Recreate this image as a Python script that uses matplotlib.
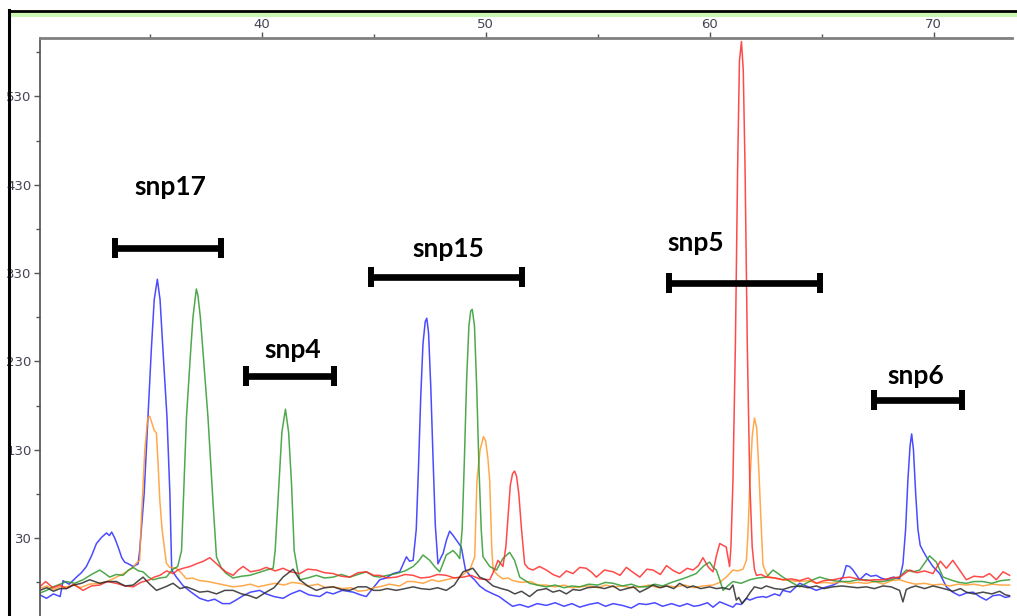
import matplotlib
matplotlib.use("Agg")
import matplotlib.pyplot as plt
from matplotlib.lines import Line2D
from matplotlib.patches import Rectangle

# trace values (x = size, y = signal)
blue_x = [30.09, 30.39, 30.7, 31.0, 31.13, 31.4, 31.73, 31.95, 32.17, 32.4, 32.62, 32.85, 33.07, 33.2, 33.3, 33.44, 33.59, 33.75, 33.88, 34.05, 34.26, 34.48,
          34.55, 34.75, 34.92, 35.07, 35.2, 35.34, 35.46, 35.59, 35.77, 35.9, 35.98, 36.19, 36.5, 36.85, 37.23, 37.6, 37.9, 38.25, 38.57, 38.85, 39.17,
          39.5, 39.91, 40.2, 40.55, 40.95, 41.3, 41.7, 42.1, 42.59, 42.9, 43.19, 43.6, 44.08, 44.4, 44.67, 44.95, 45.27, 45.55, 45.86, 46.16, 46.46,
          46.6, 46.76, 46.9, 47.0, 47.1, 47.2, 47.3, 47.37, 47.45, 47.55, 47.65, 47.75, 47.87, 48.0, 48.1, 48.25, 48.39, 48.55, 48.69, 48.91, 49.1,
          49.29, 49.5, 49.73, 50.0, 50.33, 50.6, 50.92, 51.2, 51.52, 51.9, 52.3, 52.71, 53.1, 53.5, 53.85, 54.2, 54.6, 55.0, 55.35, 55.69, 56.1,
          56.5, 56.85, 57.17, 57.55, 57.9, 58.3, 58.66, 59.0, 59.3, 59.55, 59.9, 60.15, 60.45, 60.75, 61.04, 61.19, 61.4, 61.64, 61.79, 62.1, 62.38,
          62.53, 62.9, 63.13, 63.27, 63.6, 64.02, 64.4, 64.76, 65.1, 65.51, 65.75, 65.95, 66.1, 66.25, 66.4, 66.7, 66.99, 67.2, 67.44, 67.65, 67.89,
          68.2, 68.48, 68.63, 68.75, 68.85, 68.95, 69.02, 69.1, 69.2, 69.3, 69.4, 69.52, 69.7, 69.97, 70.27, 70.57, 70.85, 71.16, 71.45, 71.76,
          72.05, 72.35, 72.65, 72.95, 73.2, 73.39]
blue_y = [-34, -38, -33, -36, -18, -22, -14, -9, -2, 10, 24, 31, 36, 33, 37, 30, 20, 8, 3, 1, -2, 1,
          16, 80, 167, 243, 300, 323, 300, 243, 167, 80, -6, -14, -24, -31, -38, -41, -39, -44, -44, -40, -35,
          -31, -29, -33, -36, -38, -33, -29, -34, -36, -31, -33, -29, -31, -34, -36, -27, -17, -15, -10, -8, 9,
          4, 5, 40, 110, 190, 250, 275, 279, 262, 200, 120, 45, 1, 8, 13, 28, 38, 33, 28, 20, -6, -12,
          -17, -24, -29, -33, -36, -42, -47, -45, -48, -44, -46, -43, -47, -44, -48, -45, -43, -47, -44, -46,
          -49, -44, -45, -43, -47, -44, -47, -44, -47, -46, -43, -48, -42, -45, -48, -44, -45, -38, -40, -37, -36,
          -37, -33, -35, -29, -31, -21, -25, -29, -26, -23, -20, -14, -1, -2, -6, -17, -10, -13, -12, -15, -17,
          -14, -16, 1, 40, 95, 135, 148, 130, 80, 40, 22, 16, 8, -2, -10, -25, -31, -35, -32, -31,
          -36, -40, -35, -34, -37, -36]

orange_x = [30.09, 30.4, 30.7, 31.0, 31.28, 31.6, 31.9, 32.3, 32.77, 33.1, 33.51, 33.9, 34.26, 34.41, 34.55, 34.63, 34.78, 34.91, 35.0, 35.1, 35.2,
            35.3, 35.38, 35.45, 35.55, 35.67, 35.74, 35.89, 36.19, 36.4, 36.64, 36.9, 37.23, 37.6, 37.98, 38.35, 38.72, 39.1, 39.5, 39.85, 40.2, 40.6,
            41.0, 41.35, 41.7, 42.1, 42.5, 42.85, 43.19, 43.6, 44.0, 44.3, 44.67, 45.0, 45.27, 45.7, 46.16, 46.5, 46.76, 47.2, 47.6, 47.9, 48.24,
            48.55, 48.84, 49.05, 49.29, 49.51, 49.61, 49.75, 49.9, 50.0, 50.1, 50.18, 50.27, 50.33, 50.55, 50.77, 51.0, 51.22, 51.6, 52.0, 52.35,
            52.71, 53.1, 53.5, 53.85, 54.2, 54.6, 55.0, 55.35, 55.7, 56.1, 56.5, 56.9, 57.3, 57.7, 58.1, 58.5, 58.9, 59.3, 59.7, 60.15, 60.45,
            60.74, 61.04, 61.25, 61.49, 61.64, 61.7, 61.8, 61.9, 62.0, 62.1, 62.2, 62.3, 62.38, 62.53, 62.68, 62.95, 63.27, 63.65, 64.02, 64.4,
            64.8, 65.15, 65.51, 65.9, 66.25, 66.6, 66.99, 67.4, 67.75, 68.1, 68.48, 68.85, 69.2, 69.6, 69.97, 70.35, 70.7, 71.1, 71.46, 71.8,
            72.2, 72.6, 73.0, 73.39]
orange_y = [-27, -24, -28, -25, -25, -23, -26, -22, -21, -19, -14, -9, -3, 2, 5, 54, 130, 166, 168, 160, 152,
            149, 110, 73, 40, 16, 2, -3, -4, -9, -16, -15, -18, -19, -21, -23, -25, -24, -22, -25, -23, -21,
            -23, -20, -21, -24, -22, -26, -25, -27, -26, -30, -29, -26, -25, -22, -24, -19, -19, -21, -17, -19, -17,
            -15, -14, -10, -6, 9, 95, 130, 145, 140, 120, 95, 20, -6, -12, -16, -15, -18, -20, -19, -23,
            -23, -25, -23, -26, -25, -24, -26, -23, -25, -24, -26, -25, -23, -26, -24, -25, -23, -26, -24, -23, -20,
            -14, -6, -7, -5, 5, 30, 95, 145, 166, 155, 105, 45, 0, -10, -14, -15, -17, -18, -19, -18,
            -21, -20, -21, -19, -21, -20, -21, -19, -22, -18, -17, -20, -22, -21, -23, -22, -24, -22, -23, -22,
            -24, -22, -23, -23]

green_x = [30.09, 30.4, 30.68, 31.0, 31.28, 31.65, 32.02, 32.4, 32.77, 33.0, 33.21, 33.5, 33.81, 34.05, 34.26, 34.5, 34.7, 34.95, 35.15, 35.45, 35.74,
           35.9, 36.04, 36.25, 36.42, 36.64, 36.83, 36.93, 37.08, 37.15, 37.26, 37.37, 37.6, 37.85, 37.98, 38.2, 38.42, 38.72, 39.1, 39.46, 39.85,
           40.21, 40.51, 40.6, 40.77, 40.9, 41.06, 41.2, 41.33, 41.45, 41.6, 41.7, 42.05, 42.44, 42.8, 43.19, 43.55, 43.93, 44.3, 44.67, 45.0,
           45.27, 45.6, 46.01, 46.4, 46.76, 47.0, 47.2, 47.5, 47.75, 47.95, 48.1, 48.24, 48.54, 48.7, 48.84, 48.95, 49.05, 49.15, 49.25, 49.33,
           49.4, 49.5, 49.6, 49.7, 49.8, 49.88, 50.18, 50.48, 50.77, 51.07, 51.29, 51.52, 51.96, 52.3, 52.71, 53.1, 53.5, 53.85, 54.2, 54.6, 55.0,
           55.35, 55.69, 56.1, 56.5, 56.85, 57.17, 57.55, 57.9, 58.3, 58.66, 59.0, 59.4, 59.55, 59.75, 60.0, 60.15, 60.3, 60.45, 60.6, 60.8,
           61.04, 61.4, 61.79, 62.15, 62.53, 62.83, 63.0, 63.27, 63.65, 64.02, 64.3, 64.61, 64.91, 65.2, 65.51, 65.9, 66.25, 66.6, 66.99, 67.35,
           67.74, 68.1, 68.48, 68.78, 69.1, 69.38, 69.6, 69.82, 70.12, 70.42, 70.86, 71.15, 71.46, 71.8, 72.2, 72.6, 73.0, 73.39]
green_y = [-32, -29, -25, -22, -19, -21, -17, -11, -6, -10, -14, -11, -12, -6, -3, -7, -8, -14, -17, -15, -14,
           -9, -5, -2, 16, 167, 243, 280, 312, 305, 280, 243, 167, 60, 9, -4, -10, -15, -13, -12, -9,
           -6, -4, 16, 92, 150, 176, 150, 92, 16, -6, -17, -15, -12, -15, -14, -11, -14, -11, -8, -13,
           -14, -12, -10, -7, -2, 4, 11, 5, -3, -8, 2, 11, 16, 12, 7, 40, 120, 210, 270, 287,
           289, 270, 200, 110, 40, 9, -2, -6, 7, 14, 5, -14, -21, -23, -25, -23, -26, -24, -25, -22, -23,
           -20, -21, -24, -22, -25, -25, -22, -24, -20, -17, -14, -10, -6, -1, 3, -3, -6, -17, -29, -24,
           -19, -21, -17, -15, -14, -6, -9, -14, -20, -25, -21, -17, -14, -16, -18, -19, -19, -17, -17, -19,
           -19, -17, -14, -6, -8, -6, 2, 10, 3, -14, -18, -20, -21, -19, -19, -21, -18, -17]

red_x = [30.09, 30.35, 30.68, 31.0, 31.28, 31.6, 32.02, 32.4, 32.77, 33.1, 33.51, 33.9, 34.26, 34.6, 35.0, 35.2, 35.45, 35.75, 36.04, 36.25, 36.49,
         36.8, 37.08, 37.4, 37.68, 37.9, 38.12, 38.4, 38.72, 38.95, 39.17, 39.5, 39.91, 40.2, 40.6, 40.95, 41.3, 41.7, 42.05, 42.44, 42.8, 43.19,
         43.55, 43.93, 44.3, 44.67, 45.0, 45.27, 45.6, 46.01, 46.4, 46.76, 47.1, 47.5, 47.85, 48.24, 48.6, 48.99, 49.35, 49.73, 50.18, 50.4,
         50.55, 50.77, 50.9, 51.0, 51.1, 51.2, 51.29, 51.38, 51.48, 51.6, 51.74, 51.9, 52.11, 52.4, 52.71, 53.0, 53.3, 53.6, 53.9, 54.2, 54.49,
         54.75, 54.94, 55.3, 55.69, 56.0, 56.28, 56.6, 56.88, 57.2, 57.47, 57.8, 58.07, 58.4, 58.66, 59.0, 59.26, 59.5, 59.7, 59.95, 60.15,
         60.3, 60.45, 60.6, 60.74, 60.89, 60.95, 61.04, 61.15, 61.25, 61.33, 61.42, 61.5, 61.58, 61.68, 61.79, 61.9, 62.0, 62.09, 62.3, 62.53,
         62.9, 63.27, 63.65, 64.02, 64.4, 64.76, 65.1, 65.51, 65.9, 66.25, 66.6, 66.99, 67.35, 67.74, 68.1, 68.48, 68.93, 69.25, 69.6, 69.97,
         70.3, 70.57, 70.86, 71.16, 71.46, 71.8, 72.2, 72.5, 72.8, 73.1, 73.39]
red_y = [-25, -19, -26, -23, -27, -22, -29, -24, -23, -19, -21, -24, -25, -20, -17, -14, -12, -7, -10, -6, -4,
         -2, 1, 4, 8, 3, -2, -8, -12, -6, -2, -8, -6, -3, -7, -4, -8, -10, -5, -6, -9, -10,
         -13, -14, -9, -8, -12, -12, -15, -14, -11, -12, -15, -14, -11, -12, -15, -14, -12, -16, -17, -5,
         5, -2, 20, 55, 90, 103, 106, 100, 80, 40, 1, -4, -6, -2, -6, -11, -14, -7, -10, -3, -4,
         -9, -14, -6, -8, -12, -3, -9, -14, -5, -6, -11, -1, -7, -10, -4, -6, -1, 8, -3, -8,
         10, 24, 22, 20, -2, 20, 95, 250, 450, 570, 592, 560, 450, 250, 95, 20, -5, -12, -11, -14,
         -15, -17, -16, -18, -15, -21, -18, -17, -15, -14, -16, -18, -17, -17, -15, -14, -6, -9, -7, -10,
         4, -4, 5, -6, -17, -13, -14, -10, -17, -8, -12]

black_x = [30.09, 30.4, 30.7, 31.0, 31.28, 31.6, 31.95, 32.32, 32.77, 33.1, 33.51, 33.9, 34.26, 34.5, 34.7, 35.0, 35.3, 35.7, 36.04, 36.35, 36.64,
           36.95, 37.23, 37.6, 37.98, 38.35, 38.72, 39.1, 39.45, 39.76, 40.2, 40.55, 40.95, 41.2, 41.4, 41.7, 42.05, 42.44, 42.8, 43.19, 43.55,
           43.93, 44.3, 44.67, 45.0, 45.27, 45.6, 46.01, 46.4, 46.76, 47.1, 47.5, 47.85, 48.24, 48.6, 48.99, 49.2, 49.43, 49.73, 50.0, 50.33,
           50.7, 51.0, 51.3, 51.6, 51.96, 52.3, 52.71, 53.0, 53.3, 53.6, 53.9, 54.2, 54.55, 54.94, 55.3, 55.69, 56.0, 56.3, 56.6, 56.88, 57.2,
           57.47, 57.8, 58.07, 58.4, 58.66, 59.0, 59.26, 59.6, 60.0, 60.3, 60.6, 60.89, 61.04, 61.19, 61.3, 61.45, 61.64, 61.79, 62.0, 62.3,
           62.53, 62.9, 63.27, 63.65, 64.02, 64.4, 64.76, 65.1, 65.51, 65.9, 66.25, 66.6, 66.99, 67.35, 67.74, 68.1, 68.48, 68.63, 68.78, 68.95,
           69.2, 69.6, 69.97, 70.3, 70.6, 70.86, 71.2, 71.46, 71.8, 72.2, 72.6, 72.95, 73.2, 73.39]
black_y = [-29, -26, -30, -27, -27, -23, -21, -17, -21, -19, -19, -24, -23, -18, -14, -22, -29, -25, -21, -27, -25,
           -28, -31, -30, -33, -29, -29, -33, -35, -38, -31, -26, -14, -9, -5, -17, -24, -29, -26, -25, -28,
           -29, -25, -25, -29, -29, -27, -29, -27, -25, -27, -28, -26, -29, -23, -8, -6, -4, -14, -17, -24,
           -27, -29, -33, -30, -36, -29, -27, -31, -29, -33, -28, -29, -26, -25, -27, -24, -29, -27, -25, -31, -27,
           -23, -26, -24, -27, -21, -26, -24, -27, -25, -27, -26, -28, -23, -40, -37, -44, -38, -32, -25, -27,
           -24, -27, -28, -25, -24, -26, -24, -27, -25, -24, -25, -26, -25, -27, -24, -25, -29, -42, -28, -26,
           -24, -27, -24, -26, -28, -30, -27, -31, -33, -31, -33, -30, -34, -35]

channels = [
    (blue_x, blue_y, "#2b2bff"),
    (orange_x, orange_y, "#ff9a2e"),
    (green_x, green_y, "#2f9a2f"),
    (red_x, red_y, "#ff2a2a"),
    (black_x, black_y, "#2a2a2a"),
]

# SNP bins: name, start, end, bar level, label x, label y
snp_names = ["snp17", "snp4", "snp15", "snp5", "snp6"]
snp_start = [33.44, 39.32, 44.87, 58.18, 67.32]
snp_end = [38.16, 43.23, 51.61, 64.94, 71.26]
snp_level = [358, 214, 326, 319, 186]
label_x = [35.93, 41.38, 48.33, 59.37, 69.19]
label_y = [427, 243, 357, 364, 214]

fig = plt.figure(figsize=(10.17, 6.16), dpi=100)
fig.patch.set_facecolor("white")

# window frame bits from the screenshot
fig.add_artist(Rectangle((10 / 1017, 1 - 17 / 616), 1, 6 / 616, transform=fig.transFigure,
                         facecolor="#cbf7b5", edgecolor="none"))
fig.add_artist(Line2D([9 / 1017, 1], [1 - 10.5 / 616] * 2, transform=fig.transFigure, color="black", lw=2))
fig.add_artist(Line2D([9 / 1017] * 2, [0, 1 - 10 / 616], transform=fig.transFigure, color="black", lw=2.2))

ax = fig.add_axes([40 / 1017, 0.0, 972 / 1017, 1 - 38 / 616])

for xs, ys, c in channels:
    ax.plot(xs, ys, color=c, lw=1.1, alpha=0.85)

for name, a, b, lev, lx, ly in zip(snp_names, snp_start, snp_end, snp_level, label_x, label_y):
    mid = (a + b) / 2
    ax.errorbar(mid, lev, xerr=(b - a) / 2, fmt="none", ecolor="black", elinewidth=4.8,
                capsize=7.5, capthick=4.3)
    ax.text(lx, ly, name, ha="center", va="center", fontsize=19, fontweight="bold",
            family="Lato", color="black")

ax.set_xlim(30.1, 73.5)
ax.set_ylim(-58, 596)

ax.xaxis.tick_top()
ax.set_xticks([40, 50, 60, 70])
ax.set_xticks([35, 45, 55, 65], minor=True)
ax.set_yticks([30, 130, 230, 330, 430, 530])
ax.set_yticks([-20, 80, 180, 280, 380, 480, 580], minor=True)
ax.tick_params(which="both", direction="out", colors="#555555", labelcolor="#444455", labelsize=9.5)
ax.tick_params(which="major", length=4, width=1)
ax.tick_params(which="minor", length=3, width=1)
ax.tick_params(axis="x", pad=1)
ax.tick_params(axis="y", pad=2)

for side in ["right", "bottom"]:
    ax.spines[side].set_visible(False)
ax.spines["top"].set_color("#808080")
ax.spines["top"].set_linewidth(2)
ax.spines["left"].set_color("#505050")
ax.spines["left"].set_linewidth(1.2)

fig.savefig("out.png", dpi=100)
